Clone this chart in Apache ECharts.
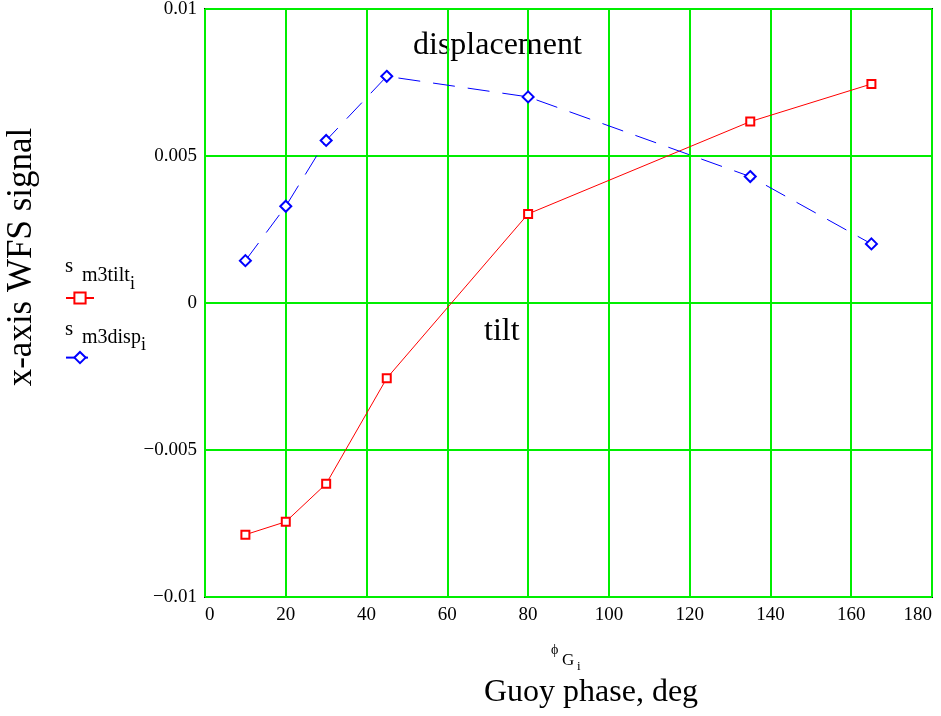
<!DOCTYPE html>
<html>
<head>
<meta charset="utf-8">
<script src="https://cdn.jsdelivr.net/npm/echarts@6/dist/echarts.min.js"></script>
<style>html,body{margin:0;padding:0;background:#fff}#c{width:941px;height:716px}</style>
</head>
<body>
<div id="c"></div>
<script>
var phase = [10, 20, 30, 45, 80, 135, 165];
var tilt = [-0.00788, -0.00744, -0.00615, -0.00256, 0.00303, 0.00617, 0.00745];
var disp = [0.00144, 0.00329, 0.00553, 0.00771, 0.00701, 0.00430, 0.00201];
var xTicks = {min: 0, max: 180, interval: 20};
var yTicks = {min: -0.01, max: 0.01, interval: 0.005};

var F = '"Liberation Serif", "DejaVu Serif", serif';
function pairs(xs, ys){ return xs.map(function(x,i){ return [x, ys[i]]; }); }
function txt(s, x, y, size, align){
  return {type: 'text', x: x, y: y, style: {text: s, font: size + 'px ' + F, fill: '#000', align: align || 'left', verticalAlign: 'middle'}};
}

var chart = echarts.init(document.getElementById('c'));
chart.setOption({
  animation: false,
  backgroundColor: '#fff',
  grid: {left: 205, right: 9, top: 9, bottom: 119, containLabel: false, outerBoundsMode: 'none',
    show: true, borderColor: '#0a1a0a', borderWidth: 2, backgroundColor: 'transparent'},
  xAxis: {
    type: 'value', min: xTicks.min, max: xTicks.max, interval: xTicks.interval,
    axisLine: {show: false}, axisTick: {show: false},
    splitLine: {show: true, lineStyle: {color: '#00ee00', width: 2}},
    axisLabel: {color: '#000', fontFamily: F, fontSize: 19, margin: 9, hideOverlap: false,
      alignMinLabel: 'left', alignMaxLabel: 'right'}
  },
  yAxis: {
    type: 'value', min: yTicks.min, max: yTicks.max, interval: yTicks.interval,
    axisLine: {show: false}, axisTick: {show: false},
    splitLine: {show: true, lineStyle: {color: '#00ee00', width: 2}},
    axisLabel: {color: '#000', fontFamily: F, fontSize: 19, margin: 8,
      formatter: function(v){ var s = String(+v.toFixed(4)); return s.replace('-', '\u2212'); }}
  },
  legend: {
    orient: 'vertical', left: 65, top: 291, padding: 0, itemWidth: 28, itemHeight: 14, itemGap: 46,
    formatter: function(){ return ''; }, selectedMode: false,
    data: ['tilt', 'disp']
  },
  series: [
    {name: 'tilt', type: 'line', data: pairs(phase, tilt),
      symbol: 'rect', symbolSize: 8,
      lineStyle: {color: '#ff0000', width: 1},
      itemStyle: {color: '#fff', borderColor: '#ff0000', borderWidth: 2}},
    {name: 'disp', type: 'line', data: pairs(phase, disp),
      symbol: 'diamond', symbolSize: 11,
      lineStyle: {color: '#0000ff', width: 1, type: [22, 13]},
      itemStyle: {color: '#fff', borderColor: '#0000ff', borderWidth: 2}}
  ],
  graphic: [
    {type: 'text', x: 22, y: 257, rotation: Math.PI/2, style: {text: 'x-axis WFS signal', font: '35px ' + F, fill: '#000', align: 'center', verticalAlign: 'middle'}},
    txt('Guoy phase, deg', 591, 693, 32, 'center'),
    txt('\u03d5', 551, 650, 14),
    txt('G', 562, 661, 17),
    txt('i', 577, 667, 13),
    txt('s', 65, 266, 21),
    txt('m3tilt', 82, 276, 20),
    txt('i', 130, 284, 18),
    txt('s', 65, 329, 21),
    txt('m3disp', 82, 338, 20),
    txt('i', 141, 345, 18),
    txt('displacement', 413, 46, 32),
    txt('tilt', 484, 332, 32)
  ]
});
</script>
</body>
</html>
